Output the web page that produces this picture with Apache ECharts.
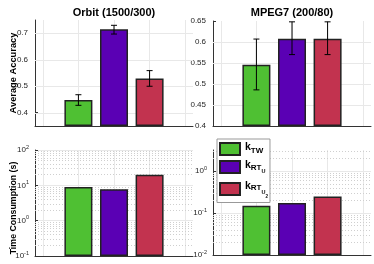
<!DOCTYPE html>
<html><head><meta charset="utf-8">
<script src="https://cdn.jsdelivr.net/npm/echarts@6/dist/echarts.min.js"></script>
<style>html,body{margin:0;padding:0;background:#fff;overflow:hidden}#c{width:374px;height:264px}</style>
</head><body><div id="c"></div>
<script>
// ---- data ----
const methods = ['kTW', 'kRTU', 'kRTU2'];
const xPos = [1, 2, 3];
const orbitAcc = [0.448, 0.715, 0.529];
const orbitErrLow = [0.428, 0.697, 0.500];
const orbitErrHigh = [0.468, 0.730, 0.559];
const mpegAcc = [0.546, 0.608, 0.608];
const mpegErrLow = [0.486, 0.570, 0.570];
const mpegErrHigh = [0.607, 0.648, 0.648];
const orbitTime = [9.0, 7.7, 20];
const mpegTime = [0.15, 0.175, 0.25];
const titles = ['Orbit (1500/300)', 'MPEG7 (200/80)'];
const yNames = ['Average Accuracy', 'Time Consumption (s)'];
const orbitAccGrid = [0.4, 0.5, 0.6, 0.7];
const mpegAccGrid = [0.45, 0.5, 0.55, 0.6];
const minorTicksOrbit = [0.2,0.3,0.4,0.5,0.6,0.7,0.8,0.9,2,3,4,5,6,7,8,9,20,30,40,50,60,70,80,90];
const minorTicksMpeg = [0.02,0.03,0.04,0.05,0.06,0.07,0.08,0.09,0.2,0.3,0.4,0.5,0.6,0.7,0.8,0.9,2,3];
const colors = ['#4fc033', '#5a00b4', '#c2334f'];

// ---- layout ----
const grids = [
  {left: 35, top: 20, width: 158, height: 106},
  {left: 213, top: 21, width: 158, height: 105},
  {left: 35, top: 150, width: 158, height: 106},
  {left: 213, top: 150, width: 158, height: 105}
];
const gridColor = '#e8e8e8';
const axisColor = '#333';
const labelColor = '#262626';
const F = 'Liberation Sans, Arial, sans-serif';

const xAxes = grids.map((g, i) => ({
  type: 'value', gridIndex: i, min: -0.22, max: 4.22,
  axisLine: {show: true, onZero: false, lineStyle: {color: axisColor, width: 1}},
  axisTick: {show: false}, axisLabel: {show: false},
  splitLine: {show: true, showMinLine: false, showMaxLine: false, lineStyle: {color: gridColor, width: 1}}
}));

const logLabel = {
  fontSize: 8, color: labelColor, margin: 6, fontFamily: F,
  formatter: v => '{b|10}{e|' + Math.round(Math.log10(v)) + '}',
  rich: {
    b: {fontSize: 8, color: labelColor, fontFamily: F},
    e: {fontSize: 5.5, color: labelColor, padding: [0, 0, 6, 0], fontFamily: F}
  }
};
const nameStyle = {fontSize: 9.3, fontWeight: 'bold', color: '#000', fontFamily: F};
const yBase = {
  axisLine: {show: true, onZero: false, lineStyle: {color: axisColor, width: 1}},
  axisTick: {show: true, inside: true, length: 3, lineStyle: {color: axisColor}},
  nameMoveOverlap: false
};
const yAxes = [
  Object.assign({}, yBase, {type: 'value', gridIndex: 0, min: 0.35, max: 0.75, splitNumber: 4, startValue: 0.35,
    splitLine: {show: false},
    axisLabel: {fontSize: 8, color: labelColor, margin: 7, showMinLabel: false, showMaxLabel: false, fontFamily: F},
    name: yNames[0], nameLocation: 'middle', nameGap: 17, nameTextStyle: nameStyle}),
  Object.assign({}, yBase, {type: 'value', gridIndex: 1, min: 0.4, max: 0.65, interval: 0.05, startValue: 0.4,
    splitLine: {show: false},
    axisLabel: {fontSize: 8, color: labelColor, margin: 7, fontFamily: F}}),
  Object.assign({}, yBase, {type: 'log', gridIndex: 2, min: 0.1, max: 100, startValue: 0.1, axisLabel: logLabel,
    splitLine: {show: true, showMinLine: false, showMaxLine: true, lineStyle: {color: gridColor, width: 1}},
    name: yNames[1], nameLocation: 'middle', nameGap: 17,
    nameTextStyle: Object.assign({}, nameStyle, {fontSize: 8.8, padding: [0, 10, 0, 0]})}),
  Object.assign({}, yBase, {type: 'log', gridIndex: 3, min: 0.01, max: 3.2, startValue: 0.01,
    splitLine: {show: true, showMinLine: false, showMaxLine: false, lineStyle: {color: gridColor, width: 1}},
    axisLabel: Object.assign({showMaxLabel: false}, logLabel)})
];

const values = [orbitAcc, mpegAcc, orbitTime, mpegTime];
const errLow = [orbitErrLow, mpegErrLow];
const errHigh = [orbitErrHigh, mpegErrHigh];
const gridLines = [orbitAccGrid, mpegAccGrid, minorTicksOrbit, minorTicksMpeg];
const gridLineStyle = [
  {color: gridColor, type: 'solid', width: 1},
  {color: gridColor, type: 'solid', width: 1},
  {color: '#cfcfcf', type: [1, 2], width: 1},
  {color: '#cfcfcf', type: [1, 2], width: 1}
];

const series = [];
values.forEach((vals, g) => {
  methods.forEach((m, i) => {
    const s = {
      type: 'bar', name: m, xAxisIndex: g, yAxisIndex: g,
      data: [[xPos[i], vals[i]]], barWidth: 28, barGap: '-100%', z: 3,
      itemStyle: {color: colors[i], borderColor: '#222', borderWidth: 1.5},
      emphasis: {disabled: true}
    };
    if (i === 0) {
      s.markLine = {
        silent: true, symbol: 'none', z: 1, animation: false,
        label: {show: false},
        lineStyle: gridLineStyle[g],
        data: gridLines[g].map(v => ({yAxis: v}))
      };
    }
    series.push(s);
  });
  if (g < 2) {
    series.push({
      type: 'custom', xAxisIndex: g, yAxisIndex: g, z: 10, silent: true,
      data: xPos.map((x, i) => [x, errLow[g][i], errHigh[g][i]]),
      encode: {x: 0, y: [1, 2]},
      renderItem: (params, api) => {
        const x = api.value(0);
        const lo = api.coord([x, api.value(1)]);
        const hi = api.coord([x, api.value(2)]);
        const c = 3, st = {stroke: '#000', lineWidth: 1};
        return {type: 'group', children: [
          {type: 'line', shape: {x1: lo[0], y1: lo[1], x2: hi[0], y2: hi[1]}, style: st},
          {type: 'line', shape: {x1: lo[0] - c, y1: lo[1], x2: lo[0] + c, y2: lo[1]}, style: st},
          {type: 'line', shape: {x1: hi[0] - c, y1: hi[1], x2: hi[0] + c, y2: hi[1]}, style: st}
        ]};
      }
    });
  }
});

const legendRich = {
  k1: {fontSize: 10.5, fontWeight: 'bold', color: '#000', verticalAlign: 'top', lineHeight: 14, fontFamily: F},
  s1: {fontSize: 8, fontWeight: 'bold', color: '#000', verticalAlign: 'top', padding: [4.5, 0, 0, 0], fontFamily: F},
  k2: {fontSize: 10.5, fontWeight: 'bold', color: '#000', verticalAlign: 'top', lineHeight: 14, fontFamily: F},
  s2: {fontSize: 8, fontWeight: 'bold', color: '#000', verticalAlign: 'top', padding: [3.5, 0, 0, 0], fontFamily: F},
  u2: {fontSize: 5.5, fontWeight: 'bold', color: '#000', verticalAlign: 'top', padding: [8, 0, 0, 0], fontFamily: F},
  k3: {fontSize: 10.5, fontWeight: 'bold', color: '#000', verticalAlign: 'top', padding: [2.5, 0, 0, 0], lineHeight: 22, fontFamily: F},
  s3: {fontSize: 8, fontWeight: 'bold', color: '#000', verticalAlign: 'top', padding: [6, 0, 0, 0], fontFamily: F},
  u3: {fontSize: 5.5, fontWeight: 'bold', color: '#000', verticalAlign: 'top', padding: [11.5, 0, 0, 0], fontFamily: F},
  n3: {fontSize: 4.5, fontWeight: 'bold', color: '#000', verticalAlign: 'top', padding: [16.5, 0, 0, 0], fontFamily: F}
};
const legendText = {
  kTW: '{k1|k}{s1|TW}',
  kRTU: '{k2|k}{s2|RT}{u2|U}',
  kRTU2: '{k3|k}{s3|RT}{u3|U}{n3|2}'
};

const option = {
  animation: false,
  backgroundColor: '#fff',
  grid: grids,
  xAxis: xAxes,
  yAxis: yAxes,
  series: series,
  legend: {
    data: methods, orient: 'vertical', left: 217, top: 139, icon: 'rect',
    itemWidth: 20, itemHeight: 12, itemGap: 4, selectedMode: false,
    padding: [3, 2, 3, 2], backgroundColor: '#fff', borderColor: '#999', borderWidth: 1,
    formatter: n => legendText[n],
    textStyle: {rich: legendRich}
  },
  graphic: [
    {type: 'text', x: 114, y: 12.5, style: {text: titles[0], align: 'center', verticalAlign: 'middle', font: 'bold 11px Liberation Sans, Arial, sans-serif', fill: '#000'}},
    {type: 'text', x: 292, y: 12.5, style: {text: titles[1], align: 'center', verticalAlign: 'middle', font: 'bold 11px Liberation Sans, Arial, sans-serif', fill: '#000'}}
  ]
};
const chart = echarts.init(document.getElementById('c'), null, {renderer: 'canvas'});
chart.setOption(option);
</script>
</body></html>
